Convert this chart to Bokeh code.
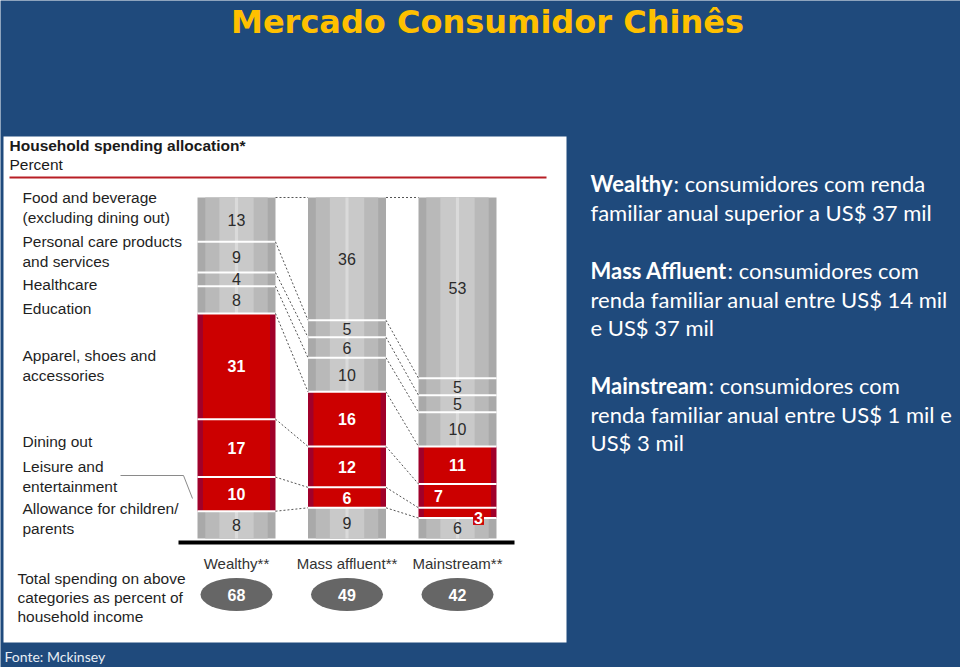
from bokeh.plotting import figure
from bokeh.models import Range1d, ColumnDataSource
from bokeh.core.properties import value
from bokeh.embed import file_html
from bokeh.resources import INLINE

# ---------------- data ----------------
categories = ["Wealthy**", "Mass affluent**", "Mainstream**"]
# segments listed bottom -> top
segment_names = [
    "Allowance for children/\nparents",
    "Leisure and\nentertainment",
    "Dining out",
    "Apparel, shoes and\naccessories",
    "Education",
    "Healthcare",
    "Personal care products\nand services",
    "Food and beverage\n(excluding dining out)",
]
segment_is_red = [False, True, True, True, False, False, False, False]
wealthy = [8, 10, 17, 31, 8, 4, 9, 13]
mass_affluent = [9, 6, 12, 16, 10, 6, 5, 36]
mainstream = [6, 3, 7, 11, 10, 5, 5, 53]
total_spending = [68, 49, 42]
series = [wealthy, mass_affluent, mainstream]

# ---------------- layout / style ----------------
BG = "#1F4A7C"
W, H = 960, 667
BAR_X0, BAR_STEP = 236, 110.5     # px of first bar centre, px between bars
PCT_PX = 3.41                      # px per percent
ZERO_PY = 538                      # px of the 0 % line
BAR_W = 78 / BAR_STEP

p = figure(width=W, height=H, x_range=Range1d(0, W), y_range=Range1d(H, 0),
           output_backend="svg", toolbar_location=None, min_border=0,
           x_axis_location=None, y_axis_location=None)
p.grid.visible = False
p.outline_line_color = None
p.background_fill_color = BG
p.border_fill_color = BG
p.extra_x_ranges = {"bx": Range1d(-BAR_X0 / BAR_STEP, (W - BAR_X0) / BAR_STEP)}
p.extra_y_ranges = {"pct": Range1d(-(H - ZERO_PY) / PCT_PX, ZERO_PY / PCT_PX)}

ARIAL = value("Liberation Sans")
CAL = value("Lato")

# title
p.text(x=[487], y=[21], text=["Mercado Consumidor Chinês"], text_font=value("DejaVu Sans"),
       text_font_style="bold", text_font_size=value("32px"), text_color="#FFC000",
       text_align="center", text_baseline="middle")

# white panel
p.quad(left=[3], right=[566], top=[136], bottom=[642], fill_color="white", line_color=None)

# header
p.text(x=[9], y=[145], text=["Household spending allocation*"], text_font=ARIAL,
       text_font_style="bold", text_font_size=value("15.5px"), text_color="#1A1A1A",
       text_baseline="middle")
p.text(x=[9], y=[164], text=["Percent"], text_font=ARIAL,
       text_font_size=value("15.5px"), text_color="#1A1A1A", text_baseline="middle")
p.segment(x0=[9], x1=[546], y0=[177], y1=[177], line_color="#B81E25", line_width=2)

# ---------------- bars ----------------
rows = {"x": [], "bottom": [], "top": [], "red": [], "val": [], "mid": []}
bounds = []
for i, vals in enumerate(series):
    cum = [0]
    for v in vals:
        cum.append(cum[-1] + v)
    bounds.append(cum)
    for k, v in enumerate(vals):
        rows["x"].append(i)
        rows["bottom"].append(cum[k])
        rows["top"].append(cum[k + 1])
        rows["red"].append(segment_is_red[k])
        rows["val"].append(str(v))
        rows["mid"].append((cum[k] + cum[k + 1]) / 2)

def subset(flag):
    idx = [j for j, r in enumerate(rows["red"]) if r == flag]
    return ColumnDataSource({k: [rows[k][j] for j in idx] for k in rows})

gray_src = subset(False)
red_src = subset(True)

for frac, col in [(1.0, "#A9A9A9"), (0.80, "#B9B9B9"), (0.44, "#C9C9C9"), (0.04, "#DADADA")]:
    p.vbar(x="x", bottom="bottom", top="top", width=BAR_W * frac, source=gray_src,
           fill_color=col, line_color=None, x_range_name="bx", y_range_name="pct")
for frac, col in [(1.0, "#A0002A"), (0.86, "#CC0000")]:
    p.vbar(x="x", bottom="bottom", top="top", width=BAR_W * frac, source=red_src,
           fill_color=col, line_color=None, x_range_name="bx", y_range_name="pct")

# white separators between segments
sx0, sx1, sy = [], [], []
for i, cum in enumerate(bounds):
    for b in cum[1:-1]:
        sx0.append(i - BAR_W / 2)
        sx1.append(i + BAR_W / 2)
        sy.append(b)
p.segment(x0=sx0, x1=sx1, y0=sy, y1=sy, line_color="white", line_width=2,
          x_range_name="bx", y_range_name="pct")

# dashed connectors
cx0, cx1, cy0, cy1 = [], [], [], []
for i in range(len(series) - 1):
    for k in range(1, len(bounds[i])):
        cx0.append(i + BAR_W / 2)
        cx1.append(i + 1 - BAR_W / 2)
        cy0.append(bounds[i][k])
        cy1.append(bounds[i + 1][k])
p.segment(x0=cx0, x1=cx1, y0=cy0, y1=cy1, line_color="#555555", line_width=1,
          line_dash="2 2", x_range_name="bx", y_range_name="pct")

# segment value labels
gray_lab = ColumnDataSource(dict(x=gray_src.data["x"], y=gray_src.data["mid"], t=gray_src.data["val"]))
p.text(x="x", y="y", text="t", source=gray_lab, text_font=ARIAL, text_font_size=value("16px"),
       text_color="#2B2B2B", text_align="center", text_baseline="middle",
       x_range_name="bx", y_range_name="pct")

red_x, red_y, red_t, red_dx = [], [], [], []
box_x, box_y, box_t = [], [], []
for x, m, t in zip(red_src.data["x"], red_src.data["mid"], red_src.data["val"]):
    if x == 2 and t == "3":
        box_x.append(x); box_y.append(m); box_t.append(t)
        continue
    red_x.append(x); red_y.append(m); red_t.append(t)
    red_dx.append(-19 if (x == 2 and t == "7") else 0)
p.text(x=red_x, y=red_y, text=red_t, x_offset=red_dx, text_font=ARIAL,
       text_font_style="bold", text_font_size=value("16px"), text_color="white",
       text_align="center", text_baseline="middle", x_range_name="bx", y_range_name="pct")
p.text(x=box_x, y=box_y, text=box_t, x_offset=21, y_offset=5, text_font=ARIAL,
       text_font_style="bold", text_font_size=value("16px"), text_color="white",
       text_align="center", text_baseline="middle", background_fill_color="#CC0000",
       padding=1, x_range_name="bx", y_range_name="pct")

# baseline
p.segment(x0=[178], x1=[514], y0=[542], y1=[542], line_color="black", line_width=4)

# left category labels (top -> bottom)
label_py = [207, 251, 284, 308, 365, 441, 476, 518]
p.text(x=[22] * len(segment_names), y=label_py, text=list(reversed(segment_names)),
       text_font=ARIAL, text_font_size=value("15.5px"), text_color="#1F1F1F",
       text_baseline="middle", text_line_height=1.12)
# leader line for leisure
p.line(x=[120, 183, 192], y=[475, 475, 498], line_color="#8A8A8A", line_width=1)

# category names and totals
p.text(x=list(range(3)), y=[563] * 3, text=categories, text_font=ARIAL,
       text_font_size=value("15px"), text_color="#333333", text_align="center",
       text_baseline="middle", x_range_name="bx")
p.ellipse(x=list(range(3)), y=[594] * 3, width=72 / BAR_STEP, height=33,
          fill_color="#666666", line_color=None, x_range_name="bx")
p.text(x=list(range(3)), y=[594] * 3, text=[str(v) for v in total_spending], text_font=ARIAL,
       text_font_style="bold", text_font_size=value("16px"), text_color="white",
       text_align="center", text_baseline="middle", x_range_name="bx")
p.text(x=[17], y=[597], text=["Total spending on above\ncategories as percent of\nhousehold income"],
       text_font=ARIAL, text_font_size=value("15.5px"), text_color="#1F1F1F",
       text_baseline="middle", text_line_height=1.1)

# right-hand explanatory text
bold_words = ["Wealthy", "Mass Affluent", "Mainstream"]
bold_py = [183, 270, 385]
bold_end = [673, 727, 708]
first_rest = [": consumidores com renda", ": consumidores com", ": consumidores com"]
p.text(x=[590] * 3, y=bold_py, text=bold_words, text_font=CAL, text_font_style="bold",
       text_font_size=value("22px"), text_color="white", text_baseline="middle")
p.text(x=bold_end, y=bold_py, text=first_rest, text_font=CAL,
       text_font_size=value("22px"), text_color="white", text_baseline="middle")
more_lines = ["familiar anual superior a US$ 37 mil",
              "renda familiar anual entre US$ 14 mil", "e US$ 37 mil",
              "renda familiar anual entre US$ 1 mil e", "US$ 3 mil"]
more_py = [212, 299, 327, 414, 442]
p.text(x=[590] * len(more_lines), y=more_py, text=more_lines, text_font=CAL,
       text_font_size=value("22px"), text_color="white", text_baseline="middle")

# source
p.text(x=[4], y=[656], text=["Fonte: Mckinsey"], text_font=CAL,
       text_font_size=value("14px"), text_color="#E8EEF5", text_baseline="middle")

open("out.html", "w").write(file_html(p, INLINE))
